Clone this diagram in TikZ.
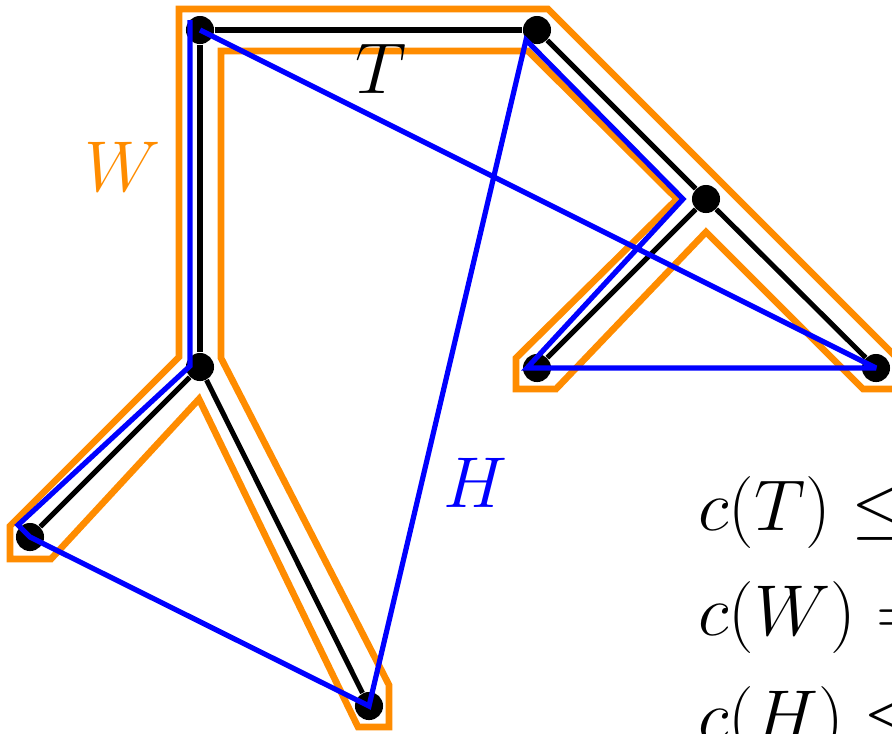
\documentclass[tikz,border=0pt]{standalone}
\usepackage{amsmath}
\usepackage{amssymb}
\usepackage{tikz}
\usepackage{xcolor}
\usetikzlibrary{calc}
\definecolor{walkorange}{RGB}{255,140,0}
\definecolor{tourblue}{RGB}{0,0,255}

\begin{document}
\begin{tikzpicture}[x=0.3456pt, y=-0.3456pt,
    vertex/.style={circle, fill=black, inner sep=0pt, minimum size=9.7pt},
    tree/.style={line width=1.75pt, black},
    walk/.style={line width=2.3pt, walkorange},
    tour/.style={line width=1.8pt, tourblue, miter limit=4},
    lbl/.style={inner sep=0pt, anchor=base west, font=\Huge}]
    \useasboundingbox (0,0) rectangle (892,733);

    % Vertices
    \node [vertex] (a) at (200,30) {};
    \node [vertex] (b) at (537,30) {};
    \node [vertex] (c) at (706,199) {};
    \node [vertex] (d) at (537,368) {};
    \node [vertex] (e) at (876,368) {};
    \node [vertex] (f) at (200,367) {};
    \node [vertex] (g) at (30,537) {};
    \node [vertex] (h) at (369,706) {};

    % Walk W around the doubled tree
    \draw [walk] (179,9) -- (548,9) -- (898,359) -- (898,389) -- (863,389)
        -- (706,232) -- (556,389) -- (516,389) -- (516,358) -- (677,199)
        -- (528,51) -- (221,51) -- (221,358) -- (389,685) -- (389,727)
        -- (358,727) -- (199,399) -- (51,559) -- (10,559) -- (10,526)
        -- (179,357) -- cycle;

    % Spanning tree T
    \draw [tree] (a) -- (b);
    \draw [tree] (b) -- (c);
    \draw [tree] (c) -- (d);
    \draw [tree] (c) -- (e);
    \draw [tree] (a) -- (f);
    \draw [tree] (f) -- (g);
    \draw [tree] (f) -- (h);

    % Tour H (shortcuts)
    \draw [tour] ($(a)+(-10,-10)$) -- ($(f)+(-10,-1)$) -- ($(g)+(-12,-12)$)
        -- (g.center) -- (h.center) -- ($(b)+(-11,10)$) -- ($(c)+(-23,0)$)
        -- ($(d)+(-10,0)$) -- (e.center) -- (a.center);

    % Labels
    \node [lbl, black] (labelT) at (355,93) {$T$};
    \node [lbl, walkorange] (labelW) at (84,191) {$W$};
    \node [lbl, tourblue] (labelH) at (443,507) {$H$};

    % Costs
    \node [lbl] (costT) at (698,530) {$c(T) \le$};
    \node [lbl] (costW) at (698,635) {$c(W) =$};
    \node [lbl] (costH) at (698,740) {$c(H) \le$};
\end{tikzpicture}
\end{document}
